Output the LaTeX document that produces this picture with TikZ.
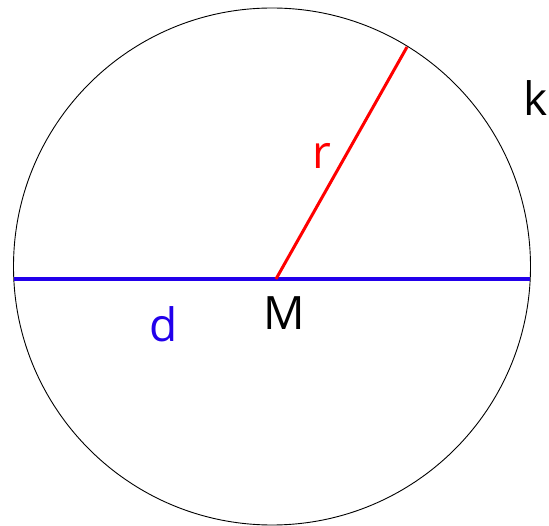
\documentclass[tikz,border=0pt]{standalone}
\usepackage{fontspec}
\setmainfont{Open Sans}
\definecolor{diamblue}{RGB}{34,0,235}
\begin{document}
\begin{tikzpicture}[x=1pt,y=-1pt,lbl/.style={inner sep=0pt,font=\fontsize{46}{55}\selectfont}]
  \useasboundingbox (0,0) rectangle (549,526);
  \coordinate (C) at (272,266.5);
  \coordinate (dl) at (13.8,279);
  \coordinate (dr) at (530.2,279);
  \coordinate (M) at (276,279);
  \coordinate (R) at (407,47);
  \draw[line width=0.9pt] (C) circle (258.5);
  \draw[diamblue,line width=3.6pt] (dl) -- (dr);
  \draw[red,line width=3pt] (M) -- (R);
  \node[lbl] (k) at (535.5,98) {k};
  \node[lbl,red] (r) at (322,156) {r};
  \node[lbl,diamblue] (d) at (164,324) {d};
  \node[lbl] (Mlbl) at (284,313.5) {M};
\end{tikzpicture}
\end{document}
